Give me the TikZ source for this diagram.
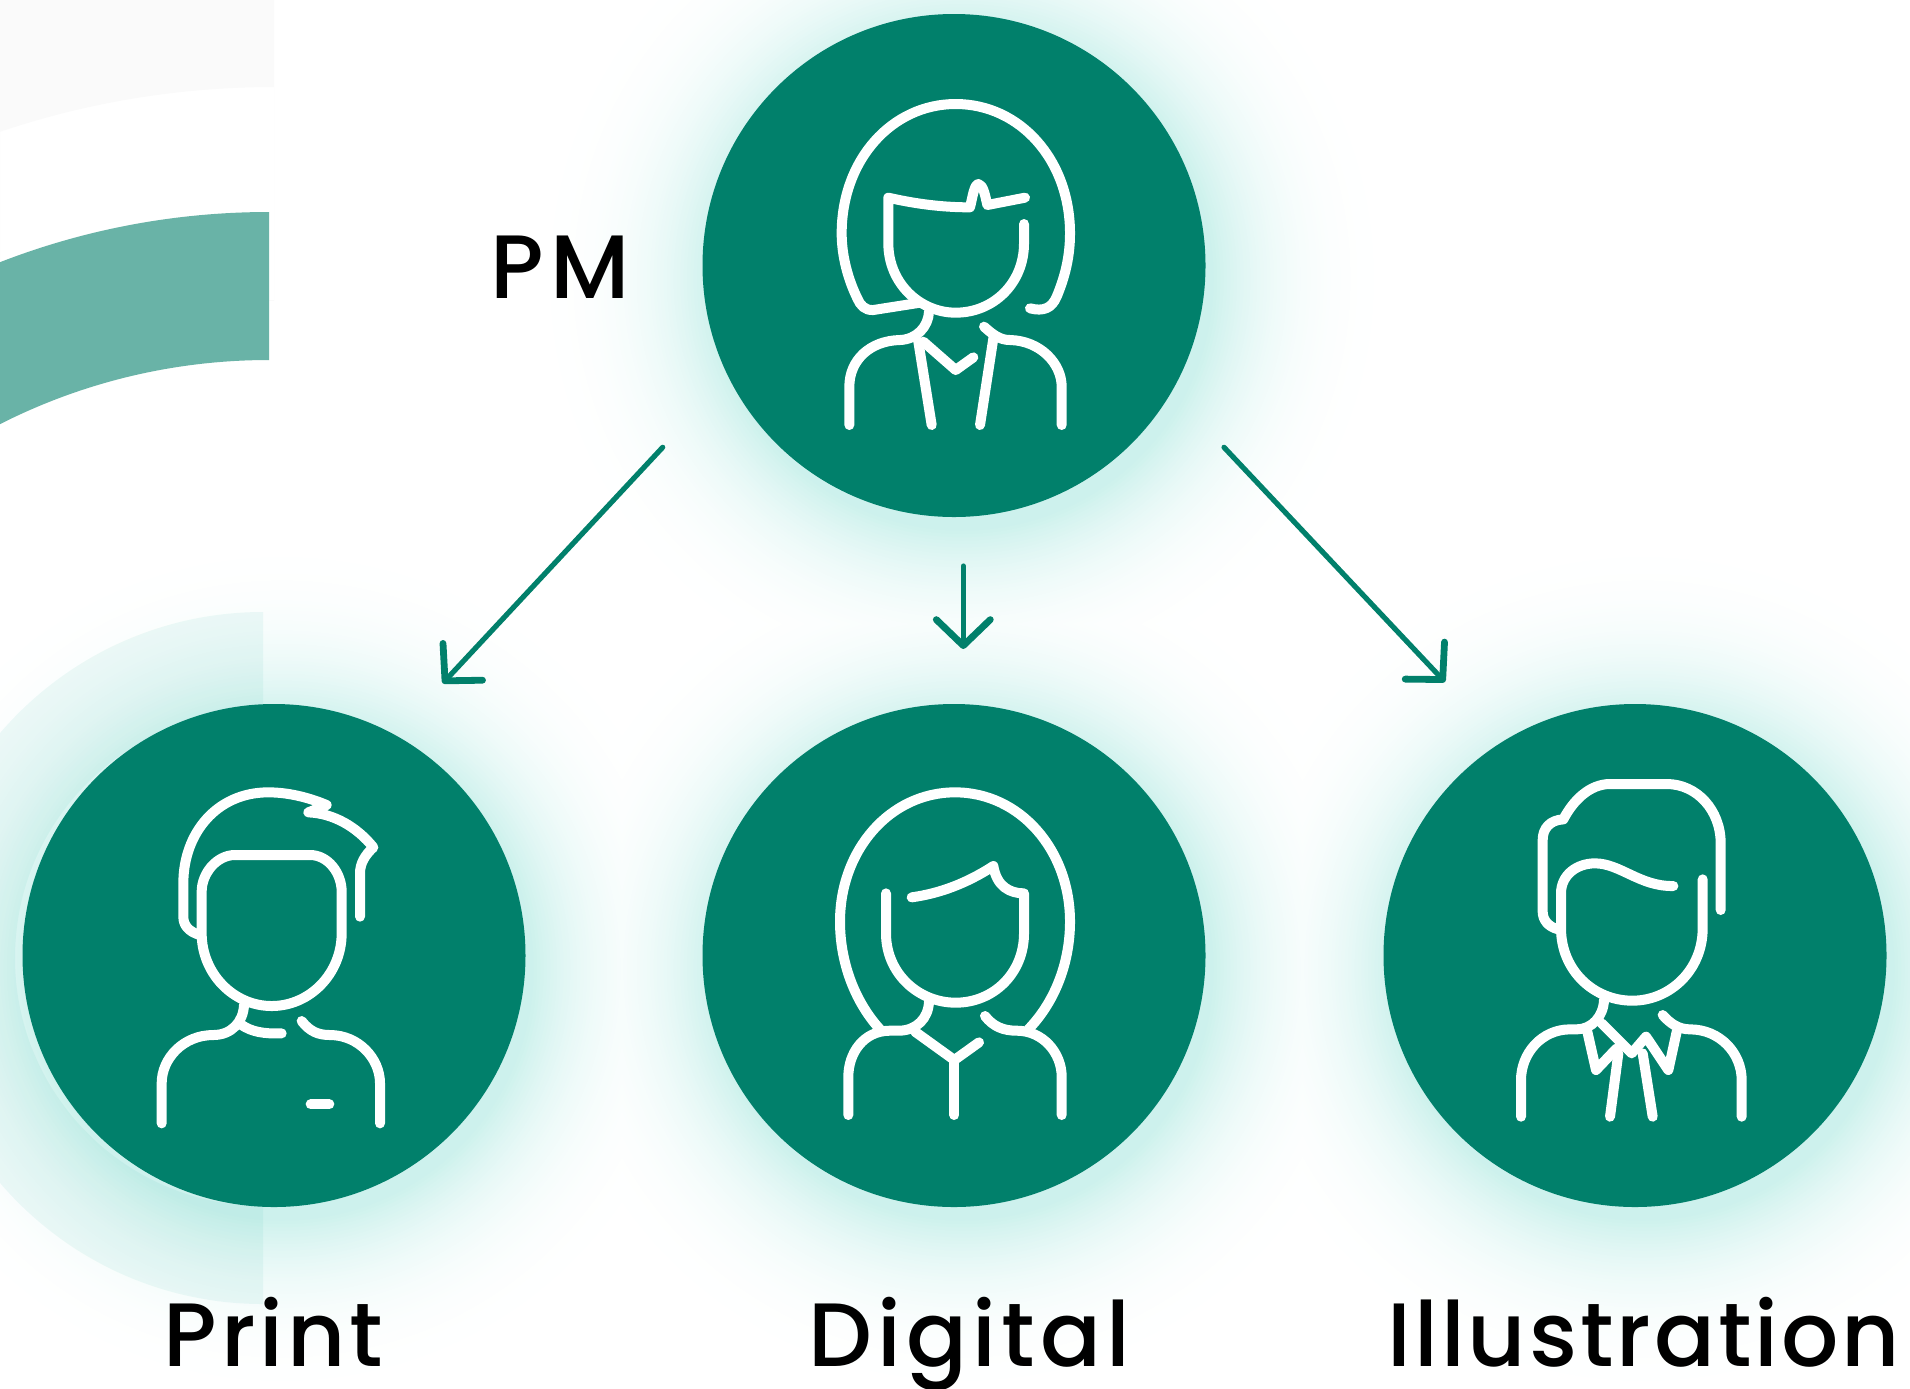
\documentclass[tikz,border=0pt]{standalone}
\usepackage{fontspec}
\setmainfont{Poppins}[UprightFont=* Medium,LetterSpace=3.25]
\usetikzlibrary{arrows.meta}
\definecolor{teal}{HTML}{01806B}
\definecolor{bandteal}{HTML}{69B3A7}
\definecolor{glowcol}{HTML}{8FE0D6}
\definecolor{greyband}{HTML}{FAFAFA}
\definecolor{ringcol}{HTML}{30B8A5}
\tikzset{
  person/.style={circle,fill=teal,minimum size=251.5pt,inner sep=0pt},
  iconline/.style={draw=white,line width=5pt,line cap=round,line join=round},
  label/.style={font=\fontsize{45}{50}\selectfont,text=black,inner sep=0pt,anchor=base west},
  link/.style={draw=teal,line width=2.6pt,line cap=round,-{Straight Barb[length=13pt,width=27pt,line width=3.4pt,round]}},
  iconscale/.style={x=.166667pt,y=-.166667pt}
}
\newcommand{\glowat}[2]{%
  \foreach \i in {60,59,...,0}{
    \pgfmathsetmacro{\dd}{200*\i/60}
    \pgfmathsetmacro{\rr}{251.5+\dd}
    \pgfmathsetmacro{\pct}{45*(1-\i/60)^3}
    \fill[glowcol!\pct!white] (#1,#2) circle[radius=\rr];
  }}
\begin{document}
\begin{tikzpicture}[x=.5pt,y=-.5pt]
\useasboundingbox (0,0) rectangle (1910,1388);
\fill[white] (0,0) rectangle (1910,1388);
% background bands
\begin{scope}
  \clip (0,0) rectangle (274,300);
  \fill[greyband,even odd rule] (0,0) rectangle (274,300) (274,944) circle[radius=857];
\end{scope}
\begin{scope}
  \clip (0,0) rectangle (269,700);
  \fill[bandteal,even odd rule] (269,955) circle[radius=743] (269,955) circle[radius=595];
\end{scope}
% glows
\begin{scope}[blend mode=darken]
\glowat{282}{969}
\glowat{962}{969}
\glowat{1643}{969}
\glowat{962}{279}
\end{scope}
% lower left ring
\begin{scope}
  \clip (0,560) rectangle (263,1388);
  \fill[ringcol,opacity=.08,even odd rule] (263,958) circle[radius=346] (263,958) circle[radius=248];
\end{scope}
% circles
\node[person] (pm) at (954,265.5) {};
\node[person] (print) at (274,955.5) {};
\node[person] (digital) at (954,955.5) {};
\node[person] (illus) at (1635,955.5) {};
% connector ends
\coordinate (pmA) at (662.7,447.3);
\coordinate (printIn) at (442.7,683.3);
\coordinate (pmB) at (963.3,566);
\coordinate (digitalIn) at (963.3,649);
\coordinate (pmC) at (1224,447.3);
\coordinate (illusIn) at (1445,682);
\draw[link] (pmA) -- (printIn);
\draw[link] (pmB) -- (digitalIn);
\draw[link] (pmC) -- (illusIn);
% labels
\node[label] (pmlabel) at (490.5,298) {\addfontfeature{LetterSpace=7}PM};
\node[label] (printlabel) at (163.5,1366) {\addfontfeature{LetterSpace=4.3}Print};
\node[label] (digitallabel) at (808.5,1366) {\addfontfeature{LetterSpace=5.7}Digital};
\node[label] (illuslabel) at (1387.5,1366) {Illustration};
% PM icon
\begin{scope}[shift={(780,70)},iconscale]
  \draw[iconline] (750,715) .. controls (790,725) and (815,715) .. (830,680) .. controls (855,620) and (870,560) .. (870,490) .. controls (870,270) and (720,102) .. (527,102) .. controls (335,102) and (185,270) .. (185,490) .. controls (185,560) and (205,630) .. (232,685) .. controls (240,705) and (255,722) .. (280,720) -- (420,698);
  \draw[iconline] (735,383) -- (622,405) .. controls (615,375) and (610,345) .. (595,342) .. controls (582,345) and (578,380) .. (570,412) .. controls (480,412) and (400,400) .. (325,383) -- (325,520) .. controls (325,640) and (420,728) .. (527,728) .. controls (640,728) and (732,640) .. (732,520) -- (732,462);
  \draw[iconline] (447,725) .. controls (445,770) and (410,808) .. (360,810) .. controls (270,812) and (208,870) .. (208,950) -- (208,1065);
  \draw[iconline] (612,770) .. controls (640,795) and (660,810) .. (690,810) .. controls (780,812) and (845,880) .. (845,950) -- (845,1065);
  \draw[iconline] (415,815) -- (455,1065);
  \draw[iconline] (640,805) -- (600,1065);
  \draw[iconline] (430,815) -- (527,900) -- (580,862);
\end{scope}
% Print icon
\begin{scope}[shift={(100,760)},iconscale]
  \draw[iconline] (780,470) -- (780,340) .. controls (780,310) and (795,285) .. (820,262) .. controls (770,200) and (700,160) .. (625,157) -- (680,135) .. controls (620,110) and (560,97) .. (505,97) .. controls (350,97) and (250,220) .. (250,370) -- (250,470) .. controls (250,495) and (265,515) .. (300,525);
  \draw[iconline] (305,395) .. controls (305,340) and (350,285) .. (405,285) -- (630,285) .. controls (685,285) and (725,340) .. (725,395) -- (725,520) .. controls (725,640) and (630,738) .. (515,738) .. controls (400,738) and (305,640) .. (305,520) -- cycle;
  \draw[iconline] (432,735) .. controls (430,785) and (395,825) .. (340,825) .. controls (250,825) and (185,895) .. (185,970) -- (185,1090);
  \draw[iconline] (425,795) .. controls (455,815) and (490,822) .. (545,820);
  \draw[iconline] (605,783) .. controls (630,815) and (655,825) .. (690,825) .. controls (775,825) and (840,895) .. (840,970) -- (840,1090);
  \draw[iconline] (632,1033) -- (688,1033);
\end{scope}
% Digital icon
\begin{scope}[shift={(780,760)},iconscale]
  \draw[iconline] (300,808) .. controls (220,720) and (180,600) .. (180,485) .. controls (180,270) and (330,97) .. (525,97) .. controls (720,97) and (870,270) .. (870,485) .. controls (870,600) and (830,720) .. (745,808);
  \draw[iconline] (318,400) -- (318,520) .. controls (318,640) and (415,728) .. (527,728) .. controls (640,728) and (732,640) .. (732,520) -- (732,400) .. controls (690,400) and (650,380) .. (640,318) .. controls (560,370) and (480,400) .. (395,412);
  \draw[iconline] (447,725) .. controls (445,775) and (410,810) .. (360,812) -- (330,812) .. controls (250,812) and (205,880) .. (205,950) -- (205,1065);
  \draw[iconline] (615,768) .. controls (640,800) and (670,812) .. (710,812) .. controls (790,812) and (845,880) .. (845,950) -- (845,1065);
  \draw[iconline] (405,815) -- (523,900) -- (597,847);
  \draw[iconline] (523,900) -- (523,1065);
\end{scope}
% Illustration icon
\begin{scope}[shift={(1470,760)},iconscale]
  \draw[iconline] (752,450) -- (752,250) .. controls (752,150) and (680,72) .. (590,72) -- (420,72) .. controls (360,72) and (310,120) .. (280,178) .. controls (240,180) and (218,205) .. (218,240) -- (218,455) .. controls (218,480) and (235,500) .. (262,507);
  \draw[iconline] (698,358) -- (698,505) .. controls (698,630) and (600,722) .. (487,722) .. controls (370,722) and (273,630) .. (273,505) -- (273,400) .. controls (273,345) and (320,310) .. (375,310) .. controls (450,310) and (510,380) .. (610,378);
  \draw[iconline] (402,720) .. controls (400,770) and (365,808) .. (320,808) -- (300,808) .. controls (215,808) and (153,880) .. (153,960) -- (153,1070);
  \draw[iconline] (578,765) .. controls (600,790) and (625,808) .. (660,808) .. controls (750,808) and (815,880) .. (815,960) -- (815,1070);
  \draw[iconline] (352,815) -- (378,930) -- (440,865);
  \draw[iconline] (395,790) -- (485,880) -- (528,830) -- (595,930) -- (620,815);
  \draw[iconline] (445,880) -- (420,1070);
  \draw[iconline] (518,880) -- (548,1070);
\end{scope}
\end{tikzpicture}
\end{document}
